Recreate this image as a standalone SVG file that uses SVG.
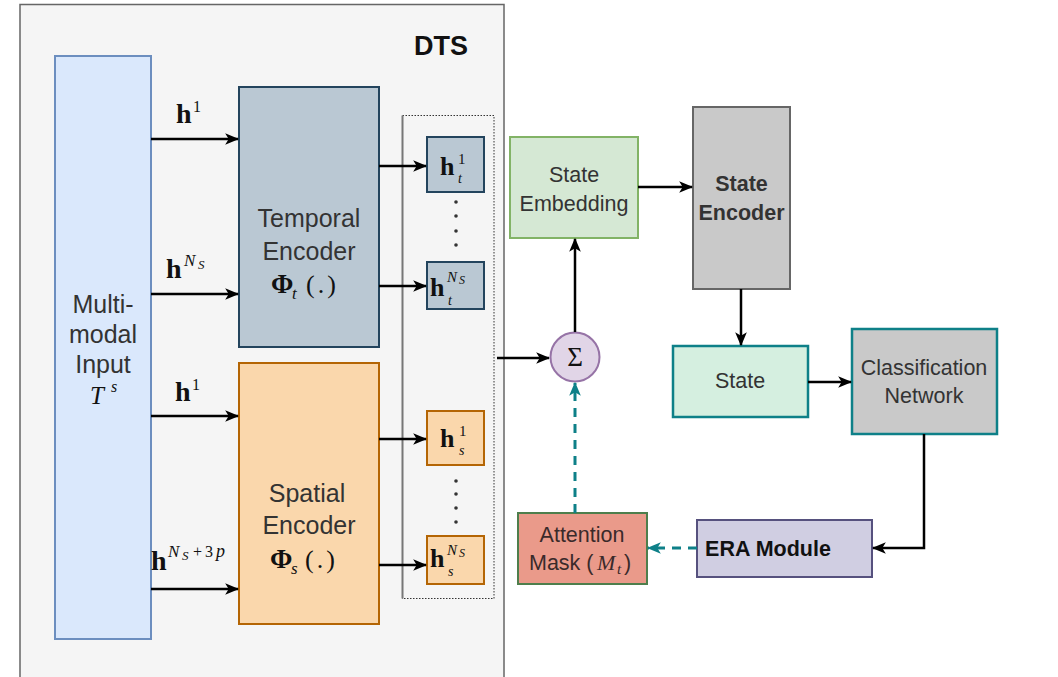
<svg xmlns="http://www.w3.org/2000/svg" width="1058" height="677" viewBox="0 0 1058 677">
<defs>
<style>
.sans{font-family:"Liberation Sans",Arial,sans-serif;fill:#333;}
.lbl{font-size:25px;text-anchor:middle;}
.lbl2{font-size:21.5px;text-anchor:middle;}
.bold{font-weight:bold;}
.m{font-family:"Liberation Serif","Times New Roman",serif;fill:#111;}
.mb{font-weight:bold;}
.it{font-style:italic;}
.edge{fill:none;stroke:#000;stroke-width:2.5;}
.dash{fill:none;stroke:#0e8088;stroke-width:3;stroke-dasharray:9,7;}
.dot{fill:#333;}
</style>
<marker id="ah" viewBox="0 0 12 10" refX="11" refY="5" markerWidth="14" markerHeight="12" markerUnits="userSpaceOnUse" orient="auto">
<path d="M0,0 L12,5 L0,10 L3,5 Z" fill="#000"/>
</marker>
<marker id="aht" viewBox="0 0 12 10" refX="11" refY="5" markerWidth="14" markerHeight="13" markerUnits="userSpaceOnUse" orient="auto">
<path d="M0,0 L12,5 L0,10 L3,5 Z" fill="#0e8088"/>
</marker>
</defs>
<rect width="1058" height="677" fill="#fff"/>

<g id="dts">
<rect x="20" y="4.5" width="484" height="690" fill="#f5f5f5" stroke="#666" stroke-width="1.5"/>
<text x="441" y="55" class="sans bold" font-size="27" text-anchor="middle" style="fill:#111">DTS</text>
</g>

<g id="output-group">
<rect x="402.5" y="115.5" width="91.5" height="483" fill="none" stroke="#333" stroke-width="1" stroke-dasharray="1.5,1.5"/>
<line x1="402.5" y1="115.5" x2="402.5" y2="598.5" stroke="#777" stroke-width="2"/>
</g>

<g id="input">
<rect x="55" y="56" width="96" height="583" fill="#dae8fc" stroke="#6c8ebf" stroke-width="2"/>
<text class="sans lbl" x="103" y="313">Multi-</text>
<text class="sans lbl" x="103" y="343">modal</text>
<text class="sans lbl" x="103" y="373">Input</text>
<text class="m it" x="90" y="404" font-size="25">T</text>
<text class="m it" x="111" y="392" font-size="16">s</text>
</g>

<g id="temporal">
<rect x="239" y="87" width="140" height="260" fill="#bac8d3" stroke="#23445d" stroke-width="2"/>
<text class="sans lbl" x="309" y="227">Temporal</text>
<text class="sans lbl" x="309" y="260">Encoder</text>
<text class="m mb" x="271" y="293" font-size="27">Φ</text>
<text class="m it" x="292" y="299" font-size="17">t</text>
<text class="m" x="306" y="293" font-size="26" letter-spacing="3">(.)</text>
</g>

<g id="spatial">
<rect x="239" y="363" width="140" height="261" fill="#fad7ac" stroke="#b46504" stroke-width="2"/>
<text class="sans lbl" x="307" y="502">Spatial</text>
<text class="sans lbl" x="309" y="534">Encoder</text>
<text class="m mb" x="270" y="568" font-size="27">Φ</text>
<text class="m it" x="291" y="574" font-size="17">s</text>
<text class="m" x="305" y="568" font-size="26" letter-spacing="3">(.)</text>
</g>

<g id="ht1">
<rect x="427" y="137" width="57" height="55" fill="#bac8d3" stroke="#23445d" stroke-width="2"/>
<text class="m mb" x="440" y="175" font-size="26">h</text>
<text class="m" x="458" y="164" font-size="15">1</text>
<text class="m it" x="458" y="183" font-size="14">t</text>
</g>
<g id="htN">
<rect x="427" y="262" width="57" height="47" fill="#bac8d3" stroke="#23445d" stroke-width="2"/>
<text class="m mb" x="430" y="296" font-size="26">h</text>
<text class="m it" x="447" y="282" font-size="15">N</text>
<text class="m it" x="459" y="284" font-size="12">S</text>
<text class="m it" x="448" y="305" font-size="14">t</text>
</g>
<g id="hs1">
<rect x="427" y="411" width="57" height="54" fill="#fad7ac" stroke="#b46504" stroke-width="2"/>
<text class="m mb" x="440" y="447" font-size="26">h</text>
<text class="m" x="459" y="436" font-size="15">1</text>
<text class="m it" x="459" y="455" font-size="14">s</text>
</g>
<g id="hsN">
<rect x="427" y="536" width="57" height="48" fill="#fad7ac" stroke="#b46504" stroke-width="2"/>
<text class="m mb" x="430" y="567" font-size="26">h</text>
<text class="m it" x="447" y="555" font-size="15">N</text>
<text class="m it" x="459" y="557" font-size="12">S</text>
<text class="m it" x="448" y="576" font-size="14">s</text>
</g>

<g id="dots">
<circle class="dot" cx="456" cy="202" r="1.8"/>
<circle class="dot" cx="456" cy="216" r="1.8"/>
<circle class="dot" cx="456" cy="231" r="1.8"/>
<circle class="dot" cx="456" cy="245" r="1.8"/>
<circle class="dot" cx="456" cy="481" r="1.8"/>
<circle class="dot" cx="456" cy="494" r="1.8"/>
<circle class="dot" cx="456" cy="508" r="1.8"/>
<circle class="dot" cx="456" cy="522" r="1.8"/>
</g>

<g id="sum">
<circle cx="575" cy="357" r="24.5" fill="#e1d5e7" stroke="#9673a6" stroke-width="2"/>
<text class="m" x="575" y="366" font-size="27" text-anchor="middle">Σ</text>
</g>

<g id="state-embedding">
<rect x="510" y="137" width="128" height="101" fill="#d5e8d4" stroke="#82b366" stroke-width="2"/>
<text class="sans lbl2" x="574" y="182">State</text>
<text class="sans lbl2" x="574" y="211">Embedding</text>
</g>

<g id="state-encoder">
<rect x="693" y="107" width="97" height="182" fill="#c9c9c9" stroke="#666" stroke-width="2"/>
<text class="sans lbl2 bold" x="741.5" y="191">State</text>
<text class="sans lbl2 bold" x="741.5" y="220">Encoder</text>
</g>

<g id="state">
<rect x="673" y="346" width="135" height="71" fill="#d5efe0" stroke="#0e8088" stroke-width="2.5"/>
<text class="sans lbl2" x="740" y="388">State</text>
</g>

<g id="classification">
<rect x="852" y="329" width="145" height="105" fill="#c9c9c9" stroke="#0e8088" stroke-width="2.5"/>
<text class="sans lbl2" x="924" y="375">Classification</text>
<text class="sans lbl2" x="924" y="403">Network</text>
</g>

<g id="era">
<rect x="697" y="520" width="175" height="57" fill="#d0cee2" stroke="#56517e" stroke-width="2"/>
<text class="sans lbl2 bold" x="768" y="556" style="fill:#111">ERA Module</text>
</g>

<g id="attention">
<rect x="518" y="513" width="129" height="71" fill="#ea9a8a" stroke="#4e7e4c" stroke-width="2"/>
<text class="sans lbl2" x="582" y="542" style="fill:#3a2a2a">Attention</text>
<text class="sans" x="529" y="570" font-size="21.5" style="fill:#3a2a2a">Mask (</text>
<text class="m it" x="597" y="570" font-size="22" style="fill:#3a2a2a">M</text>
<text class="m it" x="617" y="574" font-size="15" style="fill:#3a2a2a">t</text>
<text class="sans" x="624" y="570" font-size="21.5" style="fill:#3a2a2a">)</text>
</g>

<g id="edge-labels">
<text class="m mb" x="176" y="123" font-size="28">h</text>
<text class="m" x="193" y="112" font-size="16">1</text>
<text class="m mb" x="166" y="278" font-size="28">h</text>
<text class="m it" x="184" y="266" font-size="17">N</text>
<text class="m it" x="198" y="269" font-size="13">S</text>
<text class="m mb" x="175" y="401" font-size="28">h</text>
<text class="m" x="192" y="390" font-size="16">1</text>
<text class="m mb" x="151" y="570" font-size="28">h</text>
<text class="m it" x="168" y="557" font-size="17">N</text>
<text class="m it" x="182" y="560" font-size="13">S</text>
<text class="m" x="193" y="557" font-size="16">+</text>
<text class="m" x="205" y="557" font-size="16">3</text>
<text class="m it" x="216" y="557" font-size="18">p</text>
</g>

<g id="connectors">
<line class="edge" x1="151" y1="139" x2="238" y2="139" marker-end="url(#ah)"/>
<line class="edge" x1="151" y1="294" x2="238" y2="294" marker-end="url(#ah)"/>
<line class="edge" x1="151" y1="416" x2="238" y2="416" marker-end="url(#ah)"/>
<line class="edge" x1="151" y1="589" x2="238" y2="589" marker-end="url(#ah)"/>
<line class="edge" x1="379" y1="166" x2="426" y2="166" marker-end="url(#ah)"/>
<line class="edge" x1="379" y1="286" x2="426" y2="286" marker-end="url(#ah)"/>
<line class="edge" x1="379" y1="439" x2="426" y2="439" marker-end="url(#ah)"/>
<line class="edge" x1="379" y1="565" x2="426" y2="565" marker-end="url(#ah)"/>
<line class="edge" x1="497" y1="358" x2="549" y2="358" marker-end="url(#ah)"/>
<line class="edge" x1="575" y1="332" x2="575" y2="239" marker-end="url(#ah)"/>
<line class="edge" x1="638" y1="187" x2="692" y2="187" marker-end="url(#ah)"/>
<line class="edge" x1="741" y1="289" x2="741" y2="345" marker-end="url(#ah)"/>
<line class="edge" x1="808" y1="382" x2="851" y2="382" marker-end="url(#ah)"/>
<polyline class="edge" points="924,434 924,548 873,548" marker-end="url(#ah)"/>
<line class="dash" x1="697" y1="548" x2="648" y2="548" marker-end="url(#aht)"/>
<line class="dash" x1="575" y1="513" x2="575" y2="383" marker-end="url(#aht)"/>
</g>
</svg>
